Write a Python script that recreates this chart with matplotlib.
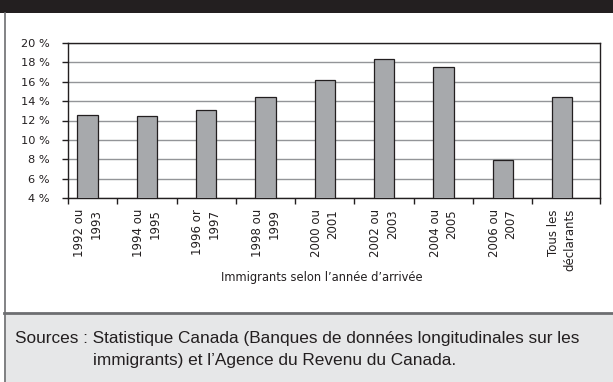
import matplotlib
matplotlib.use("Agg")
import matplotlib.pyplot as plt
from matplotlib.patches import Rectangle
from matplotlib.lines import Line2D
from matplotlib.transforms import ScaledTranslation

categories = ["1992 ou\n1993", "1994 ou\n1995", "1996 or\n1997", "1998 ou\n1999",
              "2000 ou\n2001", "2002 ou\n2003", "2004 ou\n2005", "2006 ou\n2007",
              "Tous les\ndéclarants"]
values = [12.6, 12.5, 13.1, 14.4, 16.2, 18.3, 17.5, 7.9, 14.4]
yticks = [4, 6, 8, 10, 12, 14, 16, 18, 20]
ytick_labels = [f"{v} %" for v in yticks]
xlabel = "Immigrants selon l\u2019année d\u2019arrivée"
source_line1 = "Sources : Statistique Canada (Banques de données longitudinales sur les"
source_line2 = "immigrants) et l\u2019Agence du Revenu du Canada."

W, H = 613, 382
fig = plt.figure(figsize=(W / 100, H / 100), dpi=100)
fig.patch.set_facecolor("white")


def fx(px):
    return px / W


def fy(py):
    return 1 - py / H


# black banner
fig.add_artist(Rectangle((0, fy(13)), 1, 13 / H, transform=fig.transFigure,
                         facecolor="#231f20", edgecolor="none", zorder=0))
# sources panel
fig.add_artist(Rectangle((fx(4), 0), 1, fy(313), transform=fig.transFigure,
                         facecolor="#e6e7e8", edgecolor="none", zorder=0))
fig.add_artist(Line2D([fx(4), 1], [fy(313), fy(313)], transform=fig.transFigure,
                      color="#6d6e71", lw=2))
# left border
fig.add_artist(Line2D([fx(4.5), fx(4.5)], [0, fy(13)], transform=fig.transFigure,
                      color="#6d6e71", lw=1.2))

ax = fig.add_axes([fx(68), fy(198), fx(600) - fx(68), fy(43) - fy(198)])
x = list(range(len(categories)))
ax.bar(x, values, width=0.34, color="#a7a9ac", edgecolor="#231f20", linewidth=0.9,
       zorder=3)
ax.set_ylim(4, 20)
ax.set_xlim(-0.33, len(categories) - 1 + 0.64)
ax.set_yticks(yticks)
ax.set_yticklabels(ytick_labels, fontsize=8.2, family="DejaVu Sans", color="#231f20")
ax.yaxis.grid(True, color="#939598", linewidth=1, zorder=0)
ax.set_axisbelow(True)
for s in ax.spines.values():
    s.set_color("#231f20")
    s.set_linewidth(1)
ax.tick_params(axis="y", length=4, width=1, color="#231f20", pad=9)
ax.set_xticks(x)
ax.set_xticklabels(categories, rotation=90, fontsize=8.5, family="DejaVu Sans",
                   va="top", ha="center", multialignment="right", linespacing=1.35,
                   color="#231f20")
offset = ScaledTranslation(5 / 100, 0, fig.dpi_scale_trans)
for lbl in ax.get_xticklabels():
    lbl.set_transform(lbl.get_transform() + offset)
ax.tick_params(axis="x", which="major", length=0, pad=8)
minor = [i + 0.5 for i in range(len(categories) - 1)] + list(ax.get_xlim())
ax.set_xticks(minor, minor=True)
ax.tick_params(axis="x", which="minor", length=4, width=1, color="#231f20")

fig.text(fx(322), fy(277), xlabel, ha="center", va="center", fontsize=8.3,
         family="DejaVu Sans", color="#231f20")

t1 = fig.text(fx(15), fy(339), source_line1, ha="left", va="center", fontsize=11,
              family="Liberation Sans", color="#231f20")
t2 = fig.text(fx(93), fy(361), source_line2, ha="left", va="center", fontsize=11,
              family="Liberation Sans", color="#231f20")
# fit the sources line to its width in the reference (15 -> 579 px)
fig.canvas.draw()
w = t1.get_window_extent().width
fs = 11 * (579 - 15) / w
t1.set_fontsize(fs)
t2.set_fontsize(fs)

fig.savefig("out.png", dpi=100)
